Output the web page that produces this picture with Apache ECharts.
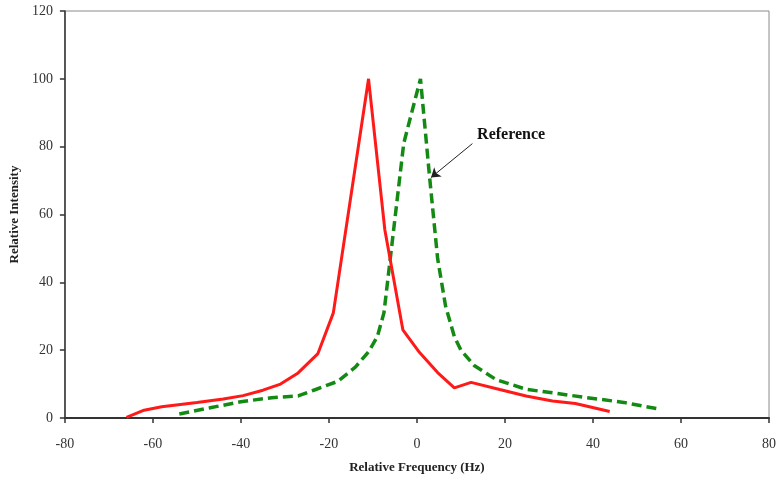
<!DOCTYPE html>
<html>
<head>
<meta charset="utf-8">
<script src="https://cdn.jsdelivr.net/npm/echarts@6/dist/echarts.min.js"></script>
<style>
html,body{margin:0;padding:0;background:#fff;}
#chart{width:779px;height:483px;}
</style>
</head>
<body>
<div id="chart"></div>
<script>
// Sample (solid red) spectrum: [relative frequency Hz, relative intensity]
var sampleSeries = [
  [-66,0.2],[-62,2.3],[-58,3.3],[-50,4.6],[-44,5.6],[-39.5,6.6],[-35,8.2],[-31,10],
  [-27,13.3],[-22.5,19],[-19,31],[-11,100],[-7.3,55.5],[-3.2,26],[0.6,19.3],[4.7,13.4],
  [8.5,8.9],[12.3,10.5],[18.8,8.4],[24.8,6.5],[30.8,5],[36,4.3],[43.8,1.9]
];
// Reference (dashed green) spectrum
var referenceSeries = [
  [-54,1.2],[-47,3],[-40,4.8],[-33,6],[-27,6.5],[-23,8.4],[-18,10.8],[-14,15],
  [-11,19.5],[-9,24],[-7.5,31],[-3,81],[0.8,100],[2.8,72],[4.7,47],[6.5,33],
  [8.5,24],[10,20],[13,15.5],[18,11.3],[25,8.4],[31,7.4],[38,6.1],[47,4.6],[55.5,2.5]
];
var xTicks = [-80,-60,-40,-20,0,20,40,60,80];
var yTicks = [0,20,40,60,80,100,120];
var annotationText = 'Reference';
var annotationPos = [21.4, 83.6];
var arrowFrom = [12.6, 80.9];
var arrowTo = [3.2, 70.9];

var chart = echarts.init(document.getElementById('chart'));
var serif = '"Liberation Serif", "DejaVu Serif", serif';
chart.setOption({
  animation: false,
  backgroundColor: '#fff',
  grid: {left: 64, right: 8, top: 11, bottom: 65, show: true, borderColor: '#8a8a8a', borderWidth: 1},
  xAxis: {
    type: 'value', min: xTicks[0], max: xTicks[xTicks.length-1], interval: 20,
    name: 'Relative Frequency (Hz)', nameLocation: 'middle', nameGap: 43,
    nameTextStyle: {fontFamily: serif, fontWeight: 'bold', fontSize: 13, color: '#222'},
    axisLine: {show: true, onZero: false, lineStyle: {color: '#333', width: 2}},
    axisTick: {show: true, length: 5, lineStyle: {color: '#333', width: 1.5}},
    axisLabel: {fontFamily: serif, fontSize: 14, color: '#333', margin: 19},
    splitLine: {show: false}
  },
  yAxis: {
    type: 'value', min: yTicks[0], max: yTicks[yTicks.length-1], interval: 20,
    name: 'Relative Intensity', nameLocation: 'middle', nameGap: 39,
    nameTextStyle: {fontFamily: serif, fontWeight: 'bold', fontSize: 13, color: '#222'},
    axisLine: {show: true, onZero: false, lineStyle: {color: '#333', width: 1.5}},
    axisTick: {show: true, length: 5, lineStyle: {color: '#333', width: 1.5}},
    axisLabel: {fontFamily: serif, fontSize: 14, color: '#333', margin: 12},
    splitLine: {show: false}
  },
  series: [
    {
      type: 'line', data: sampleSeries, showSymbol: false, symbol: 'none',
      lineStyle: {color: '#ff1a1a', width: 3}, z: 3
    },
    {
      type: 'line', data: referenceSeries, showSymbol: false, symbol: 'none',
      lineStyle: {color: '#138a13', width: 3.5, type: [10, 5]}, z: 2,
      markLine: {
        silent: true, symbol: ['none', 'arrow'], symbolSize: 9,
        lineStyle: {color: '#222', width: 1, type: 'solid'},
        label: {show: false},
        data: [[{coord: arrowFrom}, {coord: arrowTo}]]
      },
      markPoint: {
        silent: true, symbol: 'circle', symbolSize: 0,
        label: {show: true, formatter: annotationText, fontFamily: serif, fontWeight: 'bold', fontSize: 16, color: '#111', position: 'inside'},
        data: [{coord: annotationPos}]
      }
    }
  ]
});
</script>
</body>
</html>
